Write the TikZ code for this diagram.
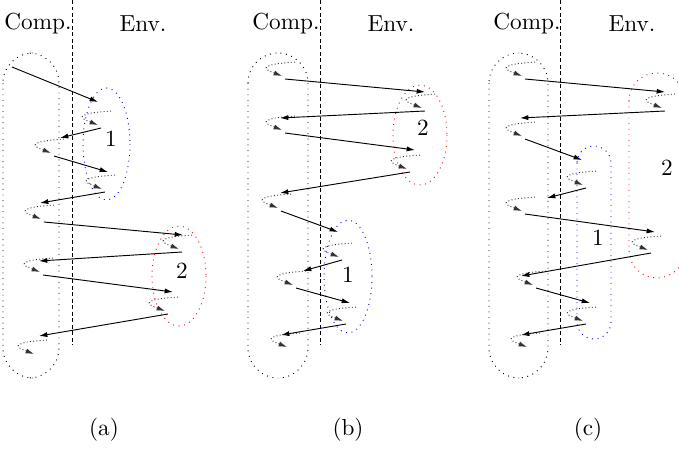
\documentclass[tikz,border=0pt]{standalone}
\usepackage{tikz}
\usetikzlibrary{arrows.meta}
\tikzset{
  msg/.style={-{Latex[length=3.6pt,width=2.2pt]}, thin},
  divide/.style={thin, dash pattern=on 1.7pt off 1.1pt},
  compbox/.style={draw=black, dotted, rounded corners=13pt},
  envone/.style={draw=blue, dotted},
  envtwo/.style={draw=red, dotted},
  wig/.pic={\draw[densely dotted, black!80, -{Latex[length=3.6pt,width=2.2pt]}]
    (10,-17) .. controls +(-44,3) and +(-13,-5) .. (-3,-3);},
}
\begin{document}
\begin{tikzpicture}[x=0.431pt, y=-0.431pt]
  \useasboundingbox (0,0) rectangle (679,448);
  % (a)
  \draw[divide] (72,0) -- (72,345);
  \node (acomp) at (38,24) {Comp.};
  \node (aenv)  at (143,24) {Env.};
  \draw[compbox] (3,53) rectangle (59,378);
  \draw[envone] (106.5,144) ellipse [x radius=23.5, y radius=56];
  \draw[envtwo] (179,276) ellipse [x radius=27, y radius=50];
  \node (aone) at (111,139) {1};
  \node (atwo) at (182,271) {2};
  \coordinate (a0o) at (12,67);
  \coordinate (a1i) at (98,102);  \coordinate (a1o) at (101,128);
  \coordinate (a2i) at (60,138);  \coordinate (a2o) at (54,156);
  \coordinate (a3i) at (108,172); \coordinate (a3o) at (105,192);
  \coordinate (a4i) at (40,203);  \coordinate (a4o) at (44,222);
  \coordinate (a5i) at (183,235); \coordinate (a5o) at (182,252);
  \coordinate (a6i) at (39,261);  \coordinate (a6o) at (43,275);
  \coordinate (a7i) at (173,292); \coordinate (a7o) at (168,314);
  \coordinate (a8i) at (39,336);  \coordinate (a8o) at (37,357);
  \draw[msg] (a0o) -- (a1i);
  \draw[msg] (a1o) -- (a2i);
  \draw[msg] (a2o) -- (a3i);
  \draw[msg] (a3o) -- (a4i);
  \draw[msg] (a4o) -- (a5i);
  \draw[msg] (a5o) -- (a6i);
  \draw[msg] (a6o) -- (a7i);
  \draw[msg] (a7o) -- (a8i);
  \pic at (a1o) {wig}; \pic at (a2o) {wig}; \pic at (a3o) {wig};
  \pic at (a4o) {wig}; \pic at (a5o) {wig}; \pic at (a6o) {wig};
  \pic at (a7o) {wig}; \pic at (a8o) {wig};
  \node (acap) at (104,430) {(a)};
  % (b)
  \draw[divide] (320,0) -- (320,345);
  \node (bcomp) at (286,24) {Comp.};
  \node (benv)  at (391,24) {Env.};
  \draw[compbox] (248,53) rectangle (308,378);
  \draw[envtwo] (420,135) ellipse [x radius=27, y radius=50];
  \draw[envone] (348,276.5) ellipse [x radius=24, y radius=56.5];
  \node (btwo) at (423,128) {2};
  \node (bone) at (348,275) {1};
  \coordinate (b0o) at (285,79);
  \coordinate (b1i) at (425,92);  \coordinate (b1o) at (425,111);
  \coordinate (b2i) at (280,118); \coordinate (b2o) at (285,133);
  \coordinate (b3i) at (415,150); \coordinate (b3o) at (410,172);
  \coordinate (b4i) at (280,193); \coordinate (b4o) at (281,211);
  \coordinate (b5i) at (338,232); \coordinate (b5o) at (342,260);
  \coordinate (b6i) at (303,271); \coordinate (b6o) at (296,288);
  \coordinate (b7i) at (350,303); \coordinate (b7o) at (346,324);
  \coordinate (b8i) at (281,335); \coordinate (b8o) at (290,350);
  \draw[msg] (b0o) -- (b1i);
  \draw[msg] (b1o) -- (b2i);
  \draw[msg] (b2o) -- (b3i);
  \draw[msg] (b3o) -- (b4i);
  \draw[msg] (b4o) -- (b5i);
  \draw[msg] (b5o) -- (b6i);
  \draw[msg] (b6o) -- (b7i);
  \draw[msg] (b7o) -- (b8i);
  \pic at (b0o) {wig}; \pic at (b1o) {wig}; \pic at (b2o) {wig};
  \pic at (b3o) {wig}; \pic at (b4o) {wig}; \pic at (b5o) {wig};
  \pic at (b6o) {wig}; \pic at (b7o) {wig}; \pic at (b8o) {wig};
  \node (bcap) at (348,430) {(b)};
  % (c)
  \draw[divide] (560,0) -- (560,345);
  \node (ccomp) at (527,24) {Comp.};
  \node (cenv)  at (632,24) {Env.};
  \draw[compbox] (489,53) rectangle (548,378);
  \draw[envtwo, rounded corners=12pt] (629,73) rectangle (685,278);
  \draw[envone, rounded corners=7.3pt] (577,146) rectangle (611,339);
  \node (ctwo) at (667,168) {2};
  \node (cone) at (598,238) {1};
  \coordinate (c0o) at (525,79);
  \coordinate (c1i) at (665,92);  \coordinate (c1o) at (665,111);
  \coordinate (c2i) at (520,118); \coordinate (c2o) at (525,139);
  \coordinate (c3i) at (582,160); \coordinate (c3o) at (586,188);
  \coordinate (c4i) at (547,198); \coordinate (c4o) at (525,214);
  \coordinate (c5i) at (655,232); \coordinate (c5o) at (651,253);
  \coordinate (c6i) at (521,276); \coordinate (c6o) at (536,288);
  \coordinate (c7i) at (590,303); \coordinate (c7o) at (586,324);
  \coordinate (c8i) at (521,335); \coordinate (c8o) at (530,350);
  \draw[msg] (c0o) -- (c1i);
  \draw[msg] (c1o) -- (c2i);
  \draw[msg] (c2o) -- (c3i);
  \draw[msg] (c3o) -- (c4i);
  \draw[msg] (c4o) -- (c5i);
  \draw[msg] (c5o) -- (c6i);
  \draw[msg] (c6o) -- (c7i);
  \draw[msg] (c7o) -- (c8i);
  \pic at (c0o) {wig}; \pic at (c1o) {wig}; \pic at (c2o) {wig};
  \pic at (c3o) {wig}; \pic at (c4o) {wig}; \pic at (c5o) {wig};
  \pic at (c6o) {wig}; \pic at (c7o) {wig}; \pic at (c8o) {wig};
  \node (ccap) at (588,430) {(c)};
\end{tikzpicture}
\end{document}
